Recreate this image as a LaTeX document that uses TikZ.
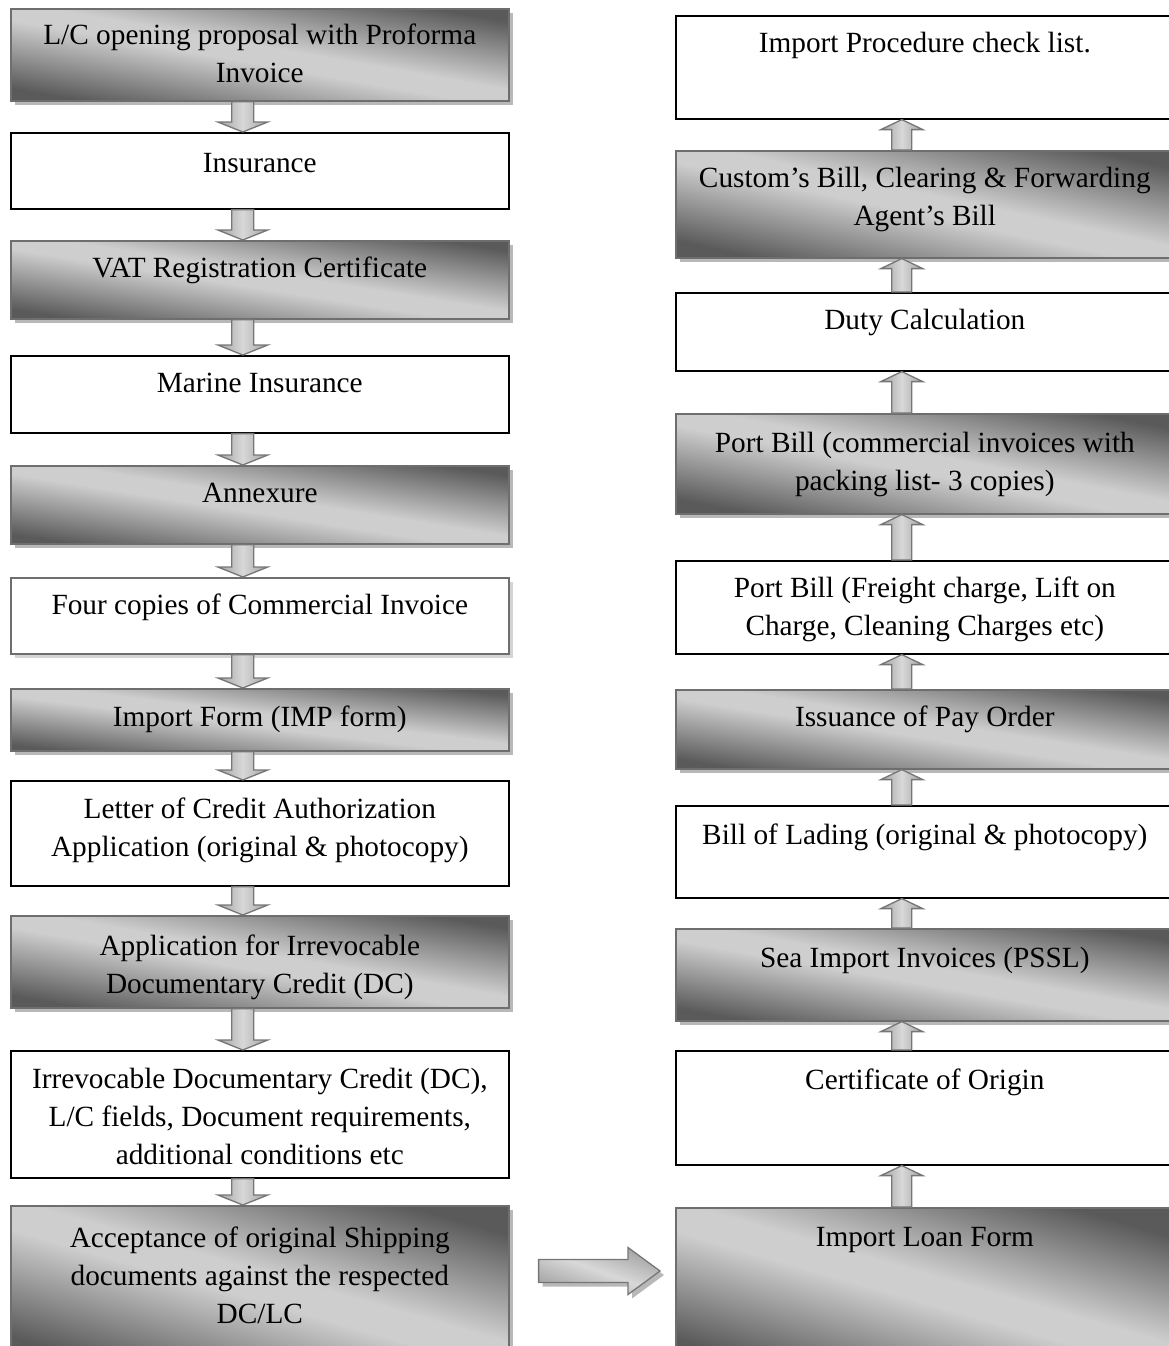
\documentclass[tikz,border=0pt]{standalone}
\usepackage{fontspec}
\setmainfont{Liberation Serif}
\usetikzlibrary{calc,positioning,shadows}
\definecolor{shadedark}{HTML}{5A5A5A}
\definecolor{shadelight}{HTML}{CECECE}
\definecolor{boxedge}{HTML}{6E6E6E}
\definecolor{shadowgray}{HTML}{B8B8B8}
\definecolor{arrowedge}{HTML}{767676}
\definecolor{arrowside}{HTML}{A2A2A2}
\definecolor{arrowmid}{HTML}{D8D8D8}
\pgfdeclarehorizontalshading{boxshade}{100bp}{color(0bp)=(shadedark); color(25bp)=(shadedark);
  color(47bp)=(shadelight); color(53bp)=(shadelight); color(75bp)=(shadedark); color(100bp)=(shadedark)}
\pgfdeclarehorizontalshading{arrowshade}{100bp}{color(0bp)=(arrowside); color(25bp)=(arrowside);
  color(50bp)=(arrowmid); color(75bp)=(arrowside); color(100bp)=(arrowside)}

\tikzset{
  box/.style={anchor=north west, minimum width=498, inner sep=0, line width=1.6},
  plainbox/.style={box, draw=black, fill=white},
  shadebox/.style={box, draw=boxedge, shading=boxshade, shading angle=80,
    drop shadow={shadow xshift=4pt, shadow yshift=-4pt, fill=shadowgray, opacity=1}},
  txt/.style={anchor=north, inner sep=0, align=center,
    font=\fontsize{29.3}{38}\selectfont, execute at begin node=\strut},
  blockarrow/.style={draw=arrowedge, line width=1.3, line join=miter, shading=arrowshade},
}

% block arrow from the bottom of #1 down to the top of #2
\newcommand{\flowdown}[2]{%
  \coordinate (s) at ($(#1.south)+(-17,0)$);
  \coordinate (t) at (s |- #2.north);
  \draw[blockarrow] ($(s)+(-11,0)$) -- ($(s)+(11,0)$) -- ($(t)+(11,10)$) -- ($(t)+(25,10)$)
    -- (t) -- ($(t)+(-25,10)$) -- ($(t)+(-11,10)$) -- cycle;}
% block arrow from the top of #1 up to the bottom of #2
\newcommand{\flowup}[2]{%
  \coordinate (s) at ($(#1.north)+(-23,0)$);
  \coordinate (t) at (s |- #2.south);
  \draw[blockarrow] ($(s)+(-10,0)$) -- ($(s)+(10,0)$) -- ($(t)+(10,-10)$) -- ($(t)+(21,-10)$)
    -- (t) -- ($(t)+(-21,-10)$) -- ($(t)+(-10,-10)$) -- cycle;}

\begin{document}
\begin{tikzpicture}[x=1pt, y=1pt]
  \useasboundingbox (0,0) rectangle (1168,-1346);

  % left column, top to bottom
  \node[shadebox, minimum height=92] (l1) at (10,-8) {};
  \node[txt] (l1t) at ($(l1.north)+(0,-16)$) {L/C opening proposal with Proforma\\Invoice};
  \node[plainbox, minimum height=76] (l2) at (10,-132) {};
  \node[txt] (l2t) at ($(l2.north)+(0,-14)$) {Insurance};
  \node[shadebox, minimum height=78, shading angle=81] (l3) at (10,-240) {};
  \node[txt] (l3t) at ($(l3.north)+(0,-11)$) {VAT Registration Certificate};
  \node[plainbox, minimum height=77] (l4) at (10,-355) {};
  \node[txt] (l4t) at ($(l4.north)+(0,-11)$) {Marine Insurance};
  \node[shadebox, minimum height=78, shading angle=81] (l5) at (10,-465) {};
  \node[txt] (l5t) at ($(l5.north)+(0,-11)$) {Annexure};
  \node[plainbox, draw=boxedge, minimum height=76,
    drop shadow={shadow xshift=4pt, shadow yshift=-4pt, fill=shadowgray!60, opacity=1}] (l6) at (10,-577) {};
  \node[txt] (l6t) at ($(l6.north)+(0,-11)$) {Four copies of Commercial Invoice};
  \node[shadebox, minimum height=62, shading angle=83] (l7) at (10,-688) {};
  \node[txt] (l7t) at ($(l7.north)+(0,-12)$) {Import Form (IMP form)};
  \node[plainbox, minimum height=105] (l8) at (10,-780) {};
  \node[txt] (l8t) at ($(l8.north)+(0,-18)$) {Letter of Credit Authorization\\Application (original \& photocopy)};
  \node[shadebox, minimum height=92] (l9) at (10,-915) {};
  \node[txt] (l9t) at ($(l9.north)+(0,-20)$) {Application for Irrevocable\\Documentary Credit (DC)};
  \node[plainbox, minimum height=127] (l10) at (10,-1050) {};
  \node[txt] (l10t) at ($(l10.north)+(0,-18)$) {Irrevocable Documentary Credit (DC),\\L/C fields, Document requirements,\\additional conditions etc};
  \node[shadebox, minimum height=160, shading angle=74] (l11) at (10,-1205) {};
  \node[txt] (l11t) at ($(l11.north)+(0,-22)$) {Acceptance of original Shipping\\documents against the respected\\DC/LC};

  % right column, top to bottom
  \node[plainbox, minimum height=103] (r1) at (675,-15) {};
  \node[txt] (r1t) at ($(r1.north)+(0,-11)$) {Import Procedure check list.};
  \node[shadebox, minimum height=107, shading angle=78] (r2) at (675,-150) {};
  \node[txt] (r2t) at ($(r2.north)+(0,-17)$) {Custom's Bill, Clearing \& Forwarding\\Agent's Bill};
  \node[plainbox, minimum height=78] (r3) at (675,-292) {};
  \node[txt] (r3t) at ($(r3.north)+(0,-11)$) {Duty Calculation};
  \node[shadebox, minimum height=100, shading angle=79] (r4) at (675,-413) {};
  \node[txt] (r4t) at ($(r4.north)+(0,-19)$) {Port Bill (commercial invoices with\\packing list- 3 copies)};
  \node[plainbox, minimum height=93] (r5) at (675,-560) {};
  \node[txt] (r5t) at ($(r5.north)+(0,-17)$) {Port Bill (Freight charge, Lift on\\Charge, Cleaning Charges etc)};
  \node[shadebox, minimum height=79, shading angle=81] (r6) at (675,-689) {};
  \node[txt] (r6t) at ($(r6.north)+(0,-11)$) {Issuance of Pay Order};
  \node[plainbox, minimum height=92] (r7) at (675,-805) {};
  \node[txt] (r7t) at ($(r7.north)+(0,-13)$) {Bill of Lading (original \& photocopy)};
  \node[shadebox, minimum height=92] (r8) at (675,-928) {};
  \node[txt] (r8t) at ($(r8.north)+(0,-13)$) {Sea Import Invoices (PSSL)};
  \node[plainbox, minimum height=114] (r9) at (675,-1050) {};
  \node[txt] (r9t) at ($(r9.north)+(0,-13)$) {Certificate of Origin};
  \node[shadebox, minimum height=160, shading angle=74] (r10) at (675,-1207) {};
  \node[txt] (r10t) at ($(r10.north)+(0,-13)$) {Import Loan Form};

  % connectors
  \foreach \a/\b in {l1/l2,l2/l3,l3/l4,l4/l5,l5/l6,l6/l7,l7/l8,l8/l9,l9/l10,l10/l11}
    {\flowdown{\a}{\b}}
  \foreach \a/\b in {r10/r9,r9/r8,r8/r7,r7/r6,r6/r5,r5/r4,r4/r3,r3/r2,r2/r1}
    {\flowup{\a}{\b}}

  % across to the right column
  \coordinate (ha) at ($(l11.north east)+(29,-66)$);
  \coordinate (hb) at ($(ha -| r10.west)+(-15,0)$);
  \draw[blockarrow, shading angle=70,
    drop shadow={shadow xshift=4pt, shadow yshift=-4pt, fill=shadowgray, opacity=1}]
    ($(ha)+(0,11.5)$) -- ($(hb)+(-32,11.5)$) -- ($(hb)+(-32,23.5)$) -- (hb)
    -- ($(hb)+(-32,-23.5)$) -- ($(hb)+(-32,-11.5)$) -- ($(ha)+(0,-11.5)$) -- cycle;
\end{tikzpicture}
\end{document}
